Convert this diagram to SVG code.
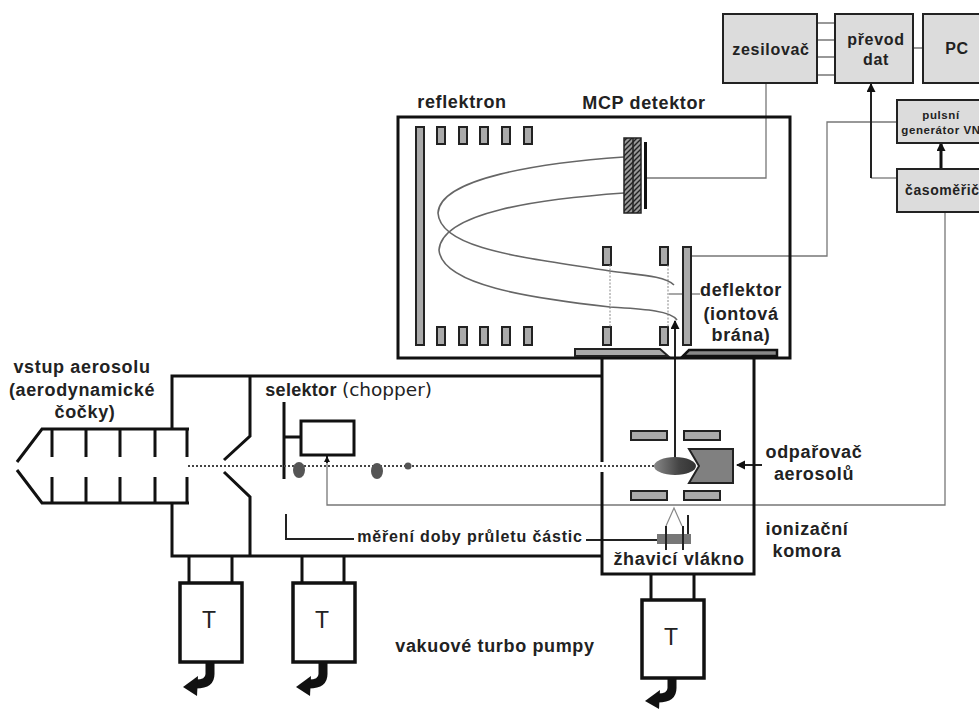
<svg xmlns="http://www.w3.org/2000/svg" width="979" height="709" viewBox="0 0 979 709">
<style>
text{font-family:"Liberation Sans",Arial,sans-serif;font-weight:bold;font-size:18px;fill:#222;text-anchor:middle;letter-spacing:.65px}
.box{fill:#dcdcdc;stroke:#222;stroke-width:2}
.thin{fill:none;stroke:#777;stroke-width:1.3}
.ln{fill:none;stroke:#111;stroke-width:3}
.mid{fill:none;stroke:#222;stroke-width:2}
.wall{fill:none;stroke:#111;stroke-width:3}
.plate{fill:#aaa;stroke:#222;stroke-width:2}
.dot{fill:none;stroke:#444;stroke-width:2.2;stroke-dasharray:2 2}
.vdot{fill:none;stroke:#888;stroke-width:1;stroke-dasharray:2 1.5}
.curve{fill:none;stroke:#666;stroke-width:1.6}
.pump{fill:#fff;stroke:#111;stroke-width:3.5}
.ex{fill:none;stroke:#111;stroke-width:9}
.t{font-weight:normal;font-size:23px;letter-spacing:0}
.pt{fill:#555}
.b16{font-size:16px;letter-spacing:.7px}
.s{font-size:11.500px;letter-spacing:.6px}
</style>
<defs>
<marker id="ah" markerWidth="10" markerHeight="10" refX="8" refY="4.500" orient="auto" markerUnits="userSpaceOnUse"><path d="M0 0L9 4.500L0 9z" fill="#111"/></marker>
<marker id="ahs" markerWidth="8" markerHeight="8" refX="6" refY="3" orient="auto" markerUnits="userSpaceOnUse"><path d="M0 0L6 3L0 6z" fill="#111"/></marker>
<pattern id="hat" width="5" height="5" patternUnits="userSpaceOnUse"><rect width="5" height="5" fill="#999"/><path d="M0 5L5 0M-1 1L1 -1M4 6L6 4" stroke="#222" stroke-width="1.400"/></pattern>
<linearGradient id="ion"><stop offset="0" stop-color="#888"/><stop offset=".6" stop-color="#444"/><stop offset="1" stop-color="#333"/></linearGradient>
</defs>

<g id="connectors">
<path class="thin" d="M817 23H835M817 40H835M817 57H835M817 75H835M913 48H923"/>
<path class="thin" d="M766 83V178H646"/>
<path class="thin" d="M897 122H827V256H691"/>
<path class="thin" d="M897 178H871"/>
<path class="mid" d="M871 178V84" marker-end="url(#ah)"/>
<path class="ln" d="M941 169V143" marker-end="url(#ah)"/>
<path class="thin" d="M945 212V505H327V462"/>
<path class="mid" d="M327 463V456" marker-end="url(#ahs)"/>
<path class="mid" d="M762 465H737" marker-end="url(#ah)"/>
<path class="mid" d="M675 457V321" marker-end="url(#ah)"/>
<path class="thin" d="M669 294H700"/>
<path class="mid" d="M286 514V539H354M586 540H688V515"/>
</g>

<g id="zesilovac"><rect class="box" x="723" y="14" width="94" height="69"/><text class="b16" x="771" y="55">zesilovač</text></g>
<g id="prevod-dat"><rect class="box" x="835" y="14" width="78" height="69"/><text class="b16" x="876" y="45">převod</text><text class="b16" x="876" y="65">dat</text></g>
<g id="pc"><rect class="box" x="923" y="14" width="60" height="69"/><text class="b16" x="957" y="54">PC</text></g>
<g id="pulsni-generator"><rect class="box" x="897" y="100" width="90" height="43"/><text class="s" x="941" y="119">pulsní</text><text class="s" x="941" y="134">generátor VN</text></g>
<g id="casomeric"><rect class="box" x="897" y="169" width="90" height="43"/><text x="905" y="195" style="font-size:14px;letter-spacing:.6px;text-anchor:start">časoměřič</text></g>

<g id="tof-komora">
<rect class="wall" x="398" y="117" width="392" height="241"/>
<rect class="plate" x="416" y="127" width="8" height="218"/>
<path class="plate" d="M437 127h8v17h-8zM459 127h8v17h-8zM480 127h8v17h-8zM502 127h8v17h-8zM524 127h8v17h-8zM437 327h8v18h-8zM459 327h8v18h-8zM480 327h8v18h-8zM502 327h8v18h-8zM524 327h8v18h-8zM603 247h8v18h-8zM660 247h8v18h-8zM603 327h8v18h-8zM660 327h8v18h-8z"/>
<rect class="plate" x="683" y="247" width="8" height="98"/>
<path class="plate" d="M575 349H660L668 356H575z"/>
<path d="M689 350H777V356H683z" fill="#888" stroke="#111" stroke-width="2.500"/>
<path class="vdot" d="M610 265V327M668 265V327"/>
<path class="curve" d="M624 157C540 163 440 178 438 213C440 250 530 258 610 271C640 275 665 276 674 285"/>
<path class="curve" d="M624 193C540 199 442 212 439 250C442 285 530 298 610 307C640 309 670 310 677 320"/>
<rect x="624" y="138" width="17" height="75" fill="url(#hat)" stroke="#222" stroke-width="1.500"/>
<path d="M633 138V213" stroke="#222" stroke-width="1.500"/>
<path d="M645.500 142V209" stroke="#111" stroke-width="3"/>
<text x="462" y="108">reflektron</text>
<text x="644" y="109">MCP detektor</text>
<text x="741" y="296">deflektor</text>
<text x="741" y="320">(iontová</text>
<text x="741" y="341">brána)</text>
</g>

<g id="vstup-aerosolu">
<path class="wall" d="M17 462L42 429H189M17 470L42 503H189M52 429V457M86 429V457M120 429V457M155 429V457M187 429V457M52 477V503M86 477V503M120 477V503M155 477V503M187 477V503"/>
<text x="82" y="373">vstup aerosolu</text>
<text x="82" y="396">(aerodynamické</text>
<text x="85" y="418">čočky)</text>
</g>

<g id="vakuova-cast">
<path class="wall" d="M172 429V376H602M172 503V556H602M250 376V436L224 460M224 472L250 497V556"/>
</g>

<g id="selektor">
<path class="ln" d="M284 402V479M284 437H301"/>
<rect class="wall" x="301" y="421" width="53" height="34"/>
<text x="301" y="396" style="font-size:18px;letter-spacing:.3px">selektor</text>
<text x="387" y="396" style="font-family:'DejaVu Sans',sans-serif;font-weight:normal;font-size:18.500px;letter-spacing:0">(chopper)</text>
</g>

<g id="svazek">
<path class="dot" d="M188 466H655"/>
<ellipse class="pt" cx="299" cy="470" rx="6" ry="8"/>
<ellipse class="pt" cx="377" cy="471" rx="6" ry="8"/>
<circle class="pt" cx="408" cy="466" r="3.500"/>
</g>

<g id="ionizacni-komora">
<path class="wall" d="M602 358V462M602 472V574H754V358"/>
<path class="plate" d="M631 431h36v9h-36zM684 431h36v9h-36zM631 491h36v9h-36zM684 491h36v9h-36z"/>
<ellipse cx="675" cy="466" rx="21" ry="9" fill="url(#ion)"/>
<path d="M689 449H733V483H689L699 466z" fill="#808080" stroke="#222" stroke-width="2"/>
<path d="M666 526L674 508L682 526" fill="none" stroke="#888" stroke-width="1.200"/>
<rect x="657" y="534" width="34" height="10" fill="#777"/>
<path class="mid" d="M666 526V550M683 526V550"/>
<text x="679" y="565">žhavicí vlákno</text>
<text class="b16" x="470" y="542" style="letter-spacing:.85px">měření doby průletu částic</text>
<text x="814" y="458">odpařovač</text>
<text x="814" y="480">aerosolů</text>
<text x="807" y="535">ionizační</text>
<text x="807" y="557">komora</text>
</g>

<g id="pumpa-1">
<path class="wall" d="M189 556V583M232 556V583"/>
<rect class="pump" x="180" y="583" width="62" height="79"/>
<text class="t" x="209" y="628">T</text>
<path class="ex" d="M210 662V674Q210 684 196 684" />
<path d="M198 676L183 687L197 696z" fill="#111"/>
</g>
<g id="pumpa-2">
<path class="wall" d="M302 556V583M344 556V583"/>
<rect class="pump" x="293" y="583" width="62" height="79"/>
<text class="t" x="322" y="628">T</text>
<path class="ex" d="M323 662V674Q323 684 309 684"/>
<path d="M311 676L296 687L310 696z" fill="#111"/>
</g>
<g id="pumpa-3">
<path class="wall" d="M651 574V600M694 574V600"/>
<rect class="pump" x="642" y="600" width="62" height="78"/>
<text class="t" x="671" y="645">T</text>
<path class="ex" d="M672 678V688Q672 698 658 698"/>
<path d="M660 690L645 701L659 709z" fill="#111"/>
</g>
<text id="vakuove-turbo-pumpy" x="495" y="652">vakuové turbo pumpy</text>
</svg>
